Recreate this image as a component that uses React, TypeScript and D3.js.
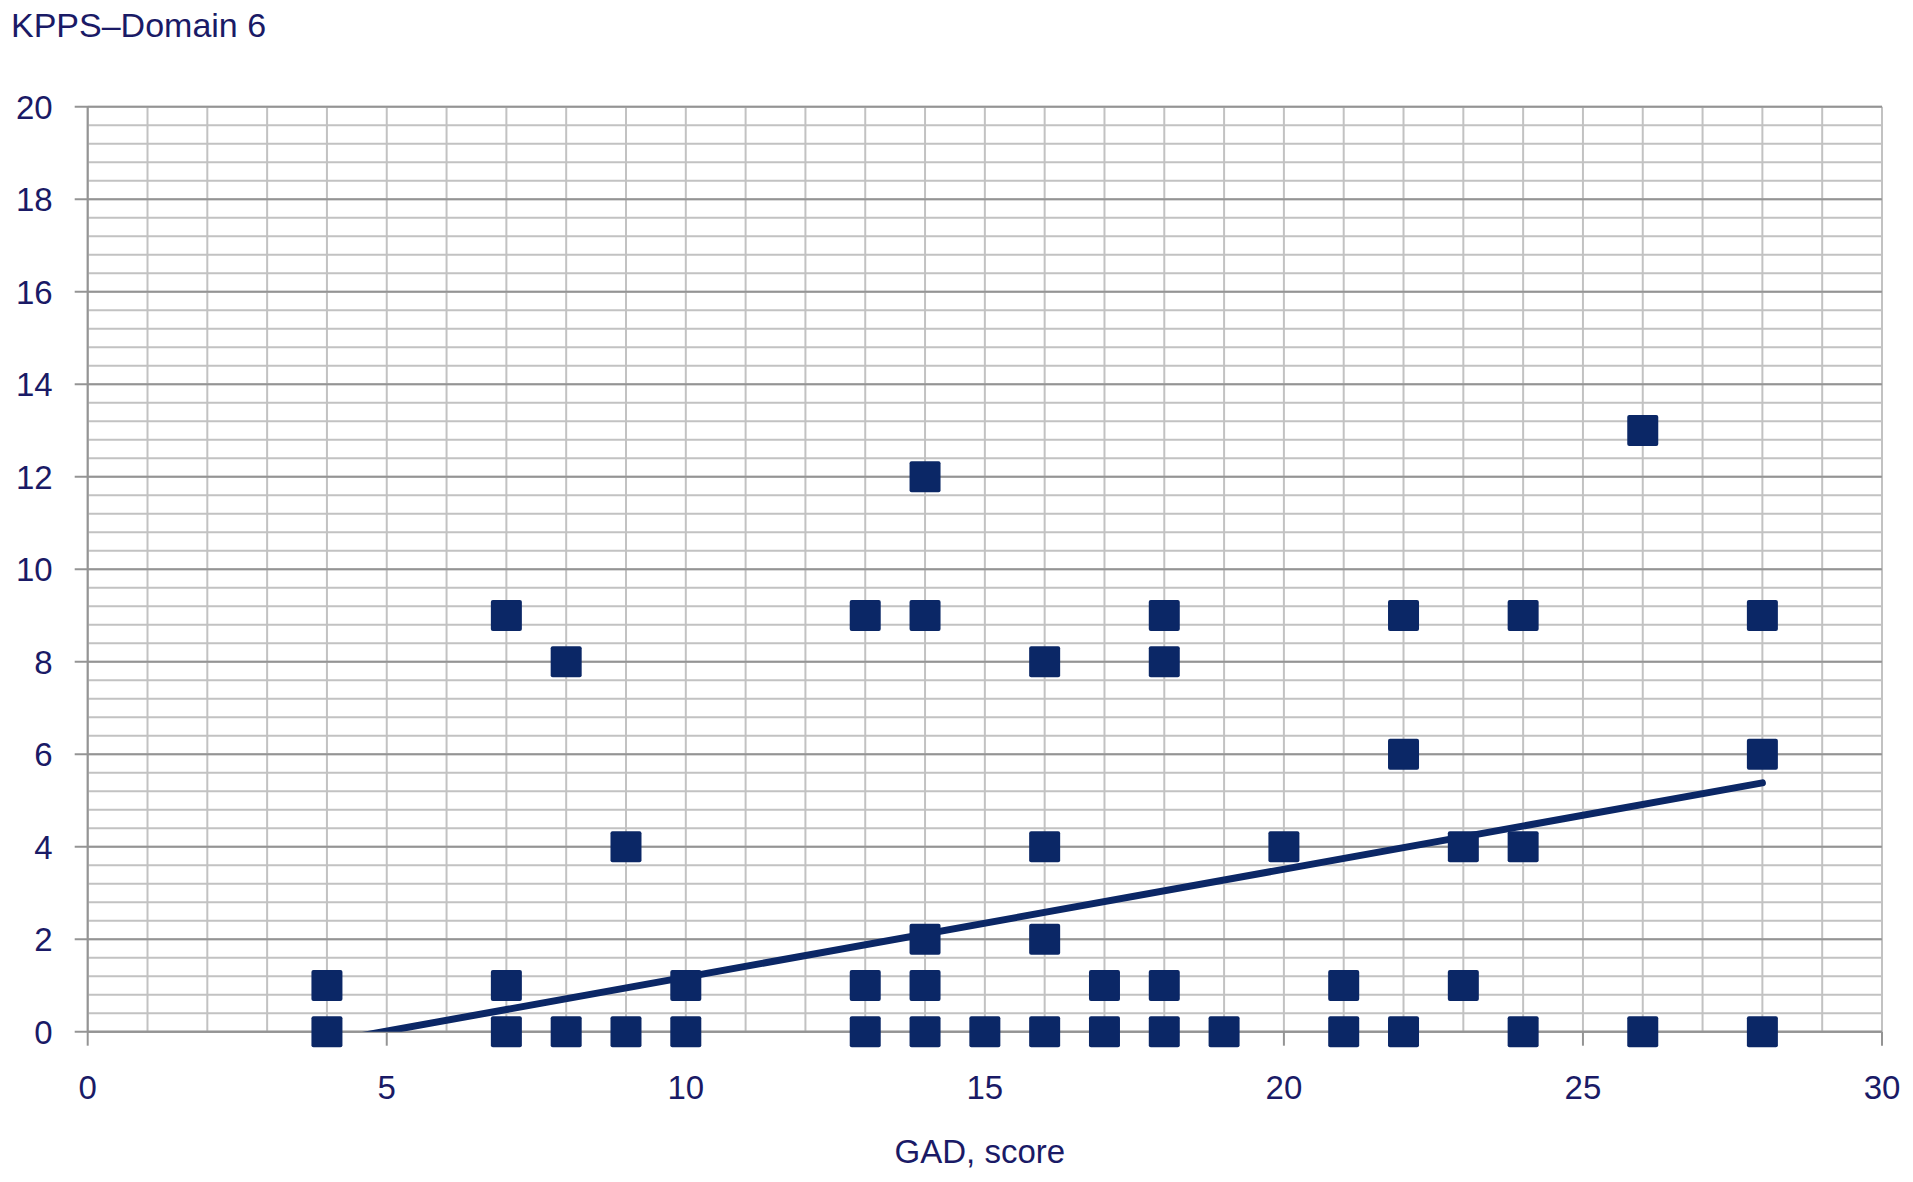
import React from 'react';
import { scaleLinear, range, line } from 'd3';

const width = 1913;
const height = 1182;
const margin = { top: 106.7, right: 31, bottom: 150.3, left: 87.7 };

// GAD score vs KPPS domain 6
const gadScores = [4, 4, 7, 7, 7, 8, 8, 9, 9, 10, 10, 13, 13, 13, 14, 14, 14, 14, 14, 15, 16, 16, 16, 16, 17, 17, 18, 18, 18, 18, 19, 20, 21, 21, 22, 22, 22, 23, 23, 24, 24, 24, 26, 26, 28, 28, 28];
const kppsScores = [1, 0, 9, 1, 0, 8, 0, 4, 0, 1, 0, 9, 1, 0, 12, 9, 2, 1, 0, 0, 8, 4, 2, 0, 1, 0, 9, 8, 1, 0, 0, 4, 1, 0, 9, 6, 0, 4, 1, 9, 4, 0, 13, 0, 9, 6, 0];

// linear trend endpoints (estimated)
const trendX = [4, 28];
const trendY = [-0.22, 5.38];

const xTicks = [0, 5, 10, 15, 20, 25, 30];
const yTicks = [0, 2, 4, 6, 8, 10, 12, 14, 16, 18, 20];

const textColor = '#1a1a66';
const markColor = '#0b2766';
const font = '"Liberation Sans", Arial, sans-serif';

const App = () => {
  const innerW = width - margin.left - margin.right;
  const innerH = height - margin.top - margin.bottom;

  const x = scaleLinear().domain([0, 30]).range([0, innerW]);
  const y = scaleLinear().domain([0, 20]).range([innerH, 0]);

  const minorY = range(0, 20.001, 0.4);
  const minorX = range(0, 31, 1);
  const trendPath = line<number>()
    .x(i => x(trendX[i]))
    .y(i => y(trendY[i]))([0, 1]);

  const size = 31;

  return (
    <svg width={width} height={height} style={{ position: 'absolute', left: 0, top: 0, background: '#fff' }}>
      <defs>
        <clipPath id="plot">
          <rect x={0} y={-5} width={innerW} height={innerH + 5} />
        </clipPath>
      </defs>
      <text x={11} y={37} fill={textColor} fontFamily={font} fontSize={34}>KPPS–Domain 6</text>
      <g transform={`translate(${margin.left}, ${margin.top})`}>
        {minorY.map(v => (
          <line key={'h' + v} x1={0} x2={innerW} y1={y(v)} y2={y(v)} stroke="#c2c2c2" strokeWidth={2} />
        ))}
        {minorX.map(v => (
          <line key={'v' + v} x1={x(v)} x2={x(v)} y1={0} y2={innerH} stroke="#c2c2c2" strokeWidth={2} />
        ))}
        {yTicks.map(v => (
          <g key={'y' + v}>
            <line x1={-13} x2={innerW} y1={y(v)} y2={y(v)} stroke="#949494" strokeWidth={2} />
            <text x={-35} y={y(v)} dy=".36em" textAnchor="end" fill={textColor} fontFamily={font} fontSize={33}>{v}</text>
          </g>
        ))}
        {xTicks.map(v => (
          <g key={'x' + v}>
            <line x1={x(v)} x2={x(v)} y1={innerH} y2={innerH + 14} stroke="#949494" strokeWidth={2} />
            <text x={x(v)} y={innerH + 67} textAnchor="middle" fill={textColor} fontFamily={font} fontSize={33}>{v}</text>
          </g>
        ))}
        <line x1={0} x2={0} y1={0} y2={innerH} stroke="#949494" strokeWidth={2} />
        <line x1={0} x2={innerW} y1={innerH} y2={innerH} stroke="#949494" strokeWidth={2} />

        <path d={trendPath ?? ''} fill="none" stroke={markColor} strokeWidth={7} strokeLinecap="round" clipPath="url(#plot)" />

        {gadScores.map((g, i) => (
          <rect
            key={i}
            x={x(g) - size / 2}
            y={y(kppsScores[i]) - size / 2}
            width={size}
            height={size}
            rx={2}
            fill={markColor}
          />
        ))}
        <text x={innerW / 2 - 5} y={innerH + 131} textAnchor="middle" fill={textColor} fontFamily={font} fontSize={33}>GAD, score</text>
      </g>
    </svg>
  );
};

export default App;
